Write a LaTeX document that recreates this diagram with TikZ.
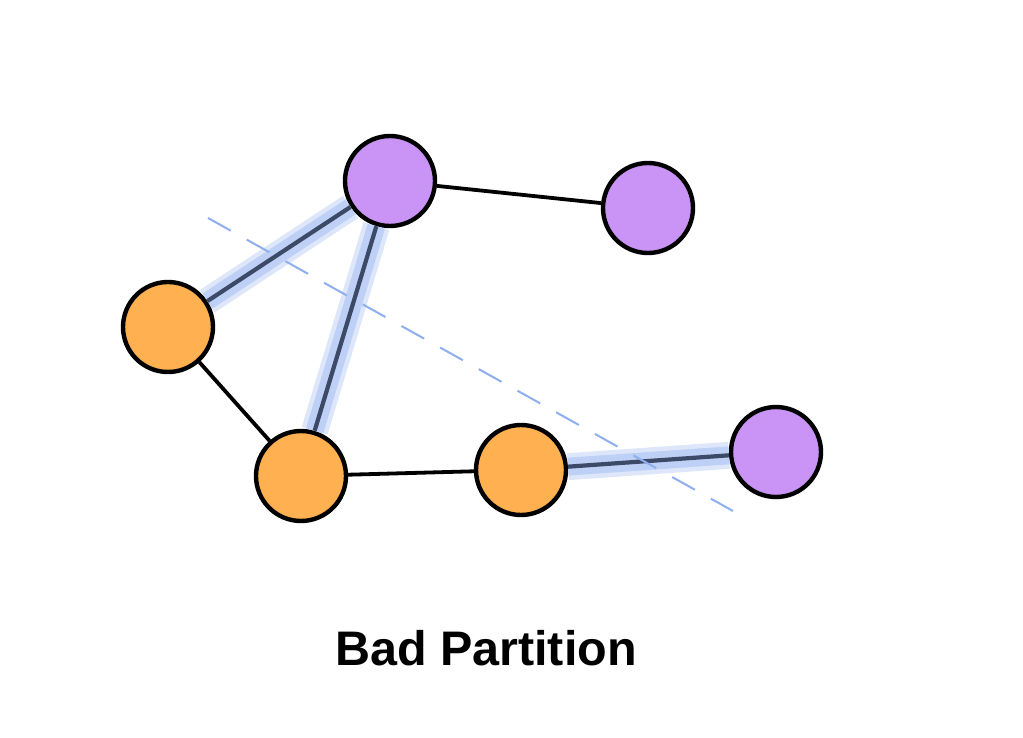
\documentclass[tikz,border=0pt]{standalone}
\usepackage{fontspec}
\setmainfont{Liberation Sans}
\usepackage{xcolor}
\usetikzlibrary{positioning}

\definecolor{purp}{HTML}{C994F5}
\definecolor{oran}{HTML}{FFB050}
\definecolor{glow}{HTML}{BED0F6}
\definecolor{cutedge}{HTML}{3C4A68}
\definecolor{cutline}{HTML}{8EAEEE}

\begin{document}
\begin{tikzpicture}[x=1pt, y=-1pt,
    vert/.style={circle, draw=black, line width=4.4pt, minimum size=90pt, inner sep=0pt},
    edge/.style={line width=3.8pt, black},
    cut/.style={line width=4.2pt, cutedge,
      preaction={draw, glow, opacity=0.5, line width=27pt},
      preaction={draw, glow, line width=18pt}}]
            \useasboundingbox (0,0) rectangle (1023,738);
            \node[vert, fill=purp] (P1) at (390,181) {};
            \node[vert, fill=purp] (P2) at (648,208) {};
            \node[vert, fill=oran] (O1) at (168,327) {};
            \node[vert, fill=oran] (O2) at (301,476) {};
            \node[vert, fill=oran] (O3) at (521,470) {};
            \node[vert, fill=purp] (P3) at (776,452) {};
            \draw[cut] (O1) -- (P1);
            \draw[cut] (P1) -- (O2);
            \draw[cut] (O3) -- (P3);
            \draw[edge] (P1) -- (P2);
            \draw[edge] (O1) -- (O2);
            \draw[edge] (O2) -- (O3);
            \coordinate (c1) at (208,218);
            \coordinate (c2) at (733,511);
            \draw[cutline, line width=2pt, dash pattern=on 26pt off 18.3pt] (c1) -- (c2);
            \node[font=\fontsize{48.5}{58}\selectfont\bfseries] (title) at (486,648) {Bad Partition};
        \end{tikzpicture}
\end{document}
